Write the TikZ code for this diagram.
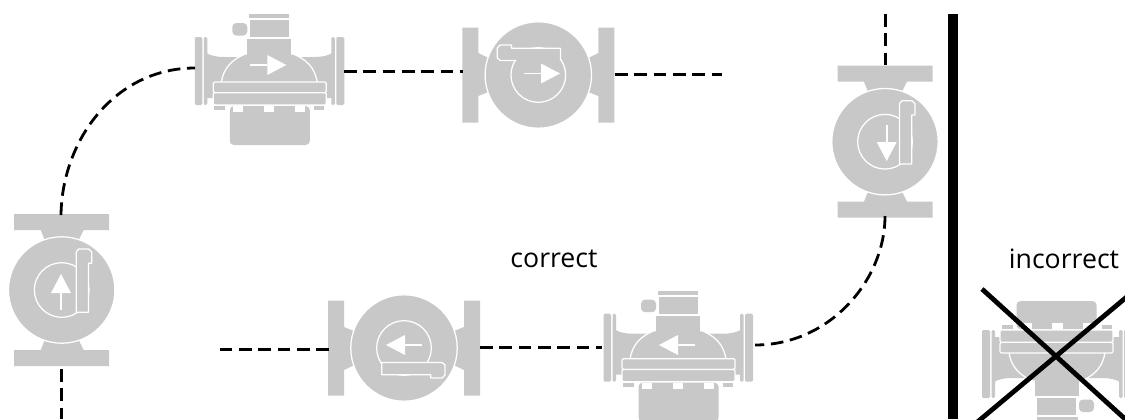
\documentclass[tikz,border=0pt]{standalone}
\usepackage{fontspec}
\setmainfont{Open Sans}
\definecolor{pumpgray}{HTML}{C8C8C8}
\tikzset{
  rim/.style={fill=pumpgray,draw=white,line width=.95pt},
  seam/.style={white,line width=.95pt},
  link/.style={black,line width=2.1pt,dash pattern=on 9.5pt off 5pt},
  flowarrow/.pic={
    \draw[white,line width=1.4pt] (-19,0) -- (-2,0);
    \fill[white] (-2,-10) -- (17,0) -- (-2,10) -- cycle;
  },
  pics/sidepump/.style={code={
    % pipe
    \fill[pumpgray] (-63,-12) .. controls (-58,-9) and (-52,-8) .. (-45,-8) -- (45,-8)
      .. controls (52,-8) and (58,-9) .. (63,-12) -- (63,33) -- (-63,33) -- cycle;
    % flanges
    \fill[pumpgray,rounded corners=1pt] (-74.5,-28) rectangle (-67,40);
    \fill[pumpgray,rounded corners=1pt] (-65.5,-28) rectangle (-62,40);
    \fill[pumpgray,rounded corners=1pt] (67,-28) rectangle (75,40);
    \fill[pumpgray,rounded corners=1pt] (62,-28) rectangle (65.5,40);
    % dome
    \path[rim] (-48,18) .. controls (-46,2) and (-36,-6) .. (-24,-11) -- (24,-11)
      .. controls (36,-6) and (46,2) .. (48,18) -- cycle;
    % necks and knob
    \fill[pumpgray] (-22,-26) rectangle (22,-5);
    \fill[pumpgray] (-19,-45) rectangle (20,-28);
    \fill[pumpgray] (-20.5,-51) rectangle (20,-47);
    \fill[pumpgray,rounded corners=3pt] (-37,-42) rectangle (-22,-29.5);
    % collar
    \path[rim,rounded corners=1pt] (-56,17) rectangle (57,27.7);
    \path[rim,rounded corners=1pt] (-56,27.7) rectangle (57,40);
    % feet
    \fill[pumpgray] (-55,41) rectangle (-44.5,45);
    \fill[pumpgray] (44.5,41) rectangle (55,45);
    % motor
    \fill[pumpgray,rounded corners=3pt] (-39.5,41) -- (-39.5,#1) -- (40.5,#1) -- (40.5,41) -- cycle;
    \fill[white] (-36,41) rectangle (-26,47);
    \fill[white] (-5.5,41) rectangle (5,47);
    \fill[white] (25.5,41) rectangle (35.5,47);
  }},
  pics/frontpump/.style={code={
    \fill[pumpgray] (-76,-47.5) -- (-60,-47.5) -- (-60,-22) -- (-50,-17) -- (-50,17) -- (-60,21)
      -- (-60,47.5) -- (-76,47.5) -- cycle;
    \fill[pumpgray] (76,-47.5) -- (60,-47.5) -- (60,-22) -- (50,-17) -- (50,17) -- (60,21)
      -- (60,47.5) -- (76,47.5) -- cycle;
    \path[rim] (0,0) circle [radius=39.9pt];
    \draw[seam] (0,0) circle [radius=20.5pt];
    \path[rim,line join=round] (22.3,-14.5) -- (22.3,-26.7) -- (-26.7,-26.7) -- (-26.7,-30)
      -- (-38,-30) -- (-41,-27) -- (-41,-17) -- (-38,-14.5) #1;
  }}
}
\begin{document}
\begin{tikzpicture}[x=.75pt,y=-.75pt]
\useasboundingbox (0,0) rectangle (1125,419);
\begin{scope}
\clip (0,0) rectangle (1125,419);
\fill[white] (0,0) rectangle (1125,419);
% pumps
\pic[rotate=-90] at (61.7,290) {frontpump={-- cycle}};
\pic at (269.3,65) {sidepump=80};
\pic at (538.3,75) {frontpump={-- (-22,-14.5)}};
\pic[rotate=-90] at (885,141.7) {frontpump={-- cycle}};
\pic[rotate=180] at (404,348) {frontpump={-- cycle}};
\pic at (678,341.7) {sidepump=80};
\pic[rotate=180] at (1057,370) {sidepump=69};
% arrows
\pic[rotate=90] at (61,291) {flowarrow};
\pic at (269.3,65) {flowarrow};
\pic at (543,73.5) {flowarrow};
\pic[rotate=-90] at (886.7,144) {flowarrow};
\pic[rotate=180] at (403,345) {flowarrow};
\pic[rotate=180] at (676,345) {flowarrow};
% connector ends
\coordinate (upBottom) at (61.5,369);
\coordinate (upEnd) at (61.5,419);
\coordinate (upTop) at (61,215);
\coordinate (sideAL) at (195,68);
\coordinate (sideAR) at (344,71.5);
\coordinate (frontAL) at (463,71.5);
\coordinate (frontAR) at (615,74.5);
\coordinate (frontAEnd) at (722,74.5);
\coordinate (downTopEnd) at (885.5,14);
\coordinate (downTop) at (885.5,67);
\coordinate (downBottom) at (885,216);
\coordinate (sideBR) at (755,345);
\coordinate (sideBL) at (602,347.5);
\coordinate (frontBR) at (480,347.5);
\coordinate (frontBL) at (329,349.5);
\coordinate (frontBEnd) at (220,349.5);
% connectors
\draw[link] (upBottom) -- (upEnd);
\draw[link] (upTop) .. controls (62,140) and (115,68) .. (sideAL);
\draw[link] (sideAR) -- (frontAL);
\draw[link] (frontAR) -- (frontAEnd);
\draw[link] (downTopEnd) -- (downTop);
\draw[link] (downBottom) .. controls (885,280) and (830,345) .. (sideBR);
\draw[link] (frontBR) -- (sideBL);
\draw[link] (frontBL) -- (frontBEnd);
% divider
\fill[black] (948,14) rectangle (958,419);
% cross
\coordinate (xA) at (982,289);
\coordinate (xB) at (1135,428);
\coordinate (xC) at (975,424);
\coordinate (xD) at (1135,290);
\draw[black,line width=3.6pt] (xA) -- (xB);
\draw[black,line width=3.6pt] (xC) -- (xD);
\end{scope}
\node[font=\fontsize{20}{24}\selectfont,inner sep=0pt] (correct) at (554,259) {correct};
\node[font=\fontsize{20}{24}\selectfont,inner sep=0pt] (incorrect) at (1064,259) {incorrect};
\end{tikzpicture}
\end{document}
